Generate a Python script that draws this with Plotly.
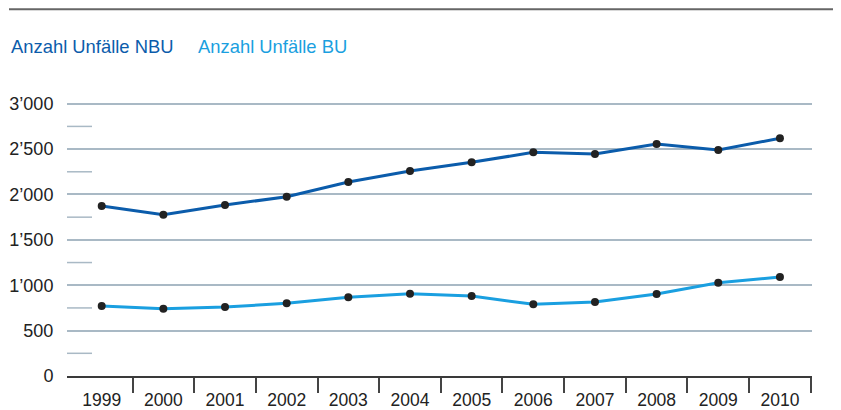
import plotly.graph_objects as go

years = ["1999", "2000", "2001", "2002", "2003", "2004", "2005", "2006", "2007", "2008", "2009", "2010"]
nbu = [1873, 1777, 1884, 1975, 2137, 2258, 2354, 2464, 2446, 2556, 2490, 2619]
bu = [771, 742, 760, 801, 867, 907, 881, 790, 815, 903, 1028, 1091]
y_ticks = [0, 500, 1000, 1500, 2000, 2500, 3000]
y_labels = ["0", "500", "1’000", "1’500", "2’000", "2’500", "3’000"]
y_minor = [250, 750, 1250, 1750, 2250, 2750]
series_names = ["Anzahl Unfälle NBU", "Anzahl Unfälle BU"]

DARK = "#0b5cab"
LIGHT = "#1a9fe0"
GRID = "#a9b9c5"
FONT = "Liberation Sans, Arial, Helvetica, sans-serif"

xs = list(range(len(years)))
fig = go.Figure()
for vals, col in [(nbu, DARK), (bu, LIGHT)]:
    fig.add_trace(go.Scatter(
        x=xs, y=vals, mode="lines+markers",
        line=dict(color=col, width=3),
        marker=dict(color="#222222", size=8),
        showlegend=False))

# invisible trace to carry the year labels axis
fig.add_trace(go.Scatter(x=xs, y=[None] * len(xs), xaxis="x2", showlegend=False, hoverinfo="skip"))

# page body has an 8px margin, so the figure is shifted by 8px
W, H = 833, 402
L, R, B = 59, 29, 34
Y_TOP = 3030
plot_h = 272.5 * Y_TOP / 3000
T = H - B - plot_h
plot_w = W - L - R

xr = [-0.563, 11.52]
fig.update_layout(
    width=W, height=H,
    margin=dict(l=L, r=R, t=T, b=B, pad=0),
    paper_bgcolor="white", plot_bgcolor="white",
    font=dict(family=FONT, size=18, color="#222222"),
    xaxis=dict(range=xr, tickvals=[i + 0.5 for i in xs], showticklabels=False,
               ticks="outside", ticklen=15, tickwidth=1.5, tickcolor="#444444",
               showgrid=False, zeroline=False, showline=True, linecolor="#3a3a3a", linewidth=2,
               automargin=False),
    xaxis2=dict(range=xr, overlaying="x", anchor="y", side="bottom",
                tickvals=xs, ticktext=years, ticks="outside", ticklen=8,
                tickcolor="rgba(0,0,0,0)", showgrid=False, zeroline=False, showline=False,
                tickfont=dict(size=17.5, color="#222222"), automargin=False),
    yaxis=dict(range=[0, Y_TOP], tickvals=y_ticks, ticktext=y_labels,
               ticks="outside", ticklen=9, tickcolor="rgba(0,0,0,0)",
               showgrid=True, gridcolor=GRID, gridwidth=1.5, zeroline=False,
               showline=False, tickfont=dict(size=18, color="#222222"), automargin=False),
)

for v in y_minor:
    fig.add_shape(type="line", xref="paper", yref="y", x0=0, x1=25 / plot_w, y0=v, y1=v,
                  line=dict(color=GRID, width=1.5))

# top rule
rule_y = (H - B - 1) / plot_h
fig.add_shape(type="line", xref="paper", yref="paper", x0=(1 - L) / plot_w, x1=(W - L) / plot_w,
              y0=rule_y, y1=rule_y, line=dict(color="#666666", width=2))

leg_y = (H - B - 38) / plot_h
for name, col, xpx in [(series_names[0], DARK, 1), (series_names[1], LIGHT, 188)]:
    fig.add_annotation(text=name, xref="paper", yref="paper", x=(xpx - L) / plot_w, y=leg_y,
                       xanchor="left", yanchor="middle", showarrow=False,
                       font=dict(family=FONT, size=18.4, color=col))

fig.write_html("out.html")
